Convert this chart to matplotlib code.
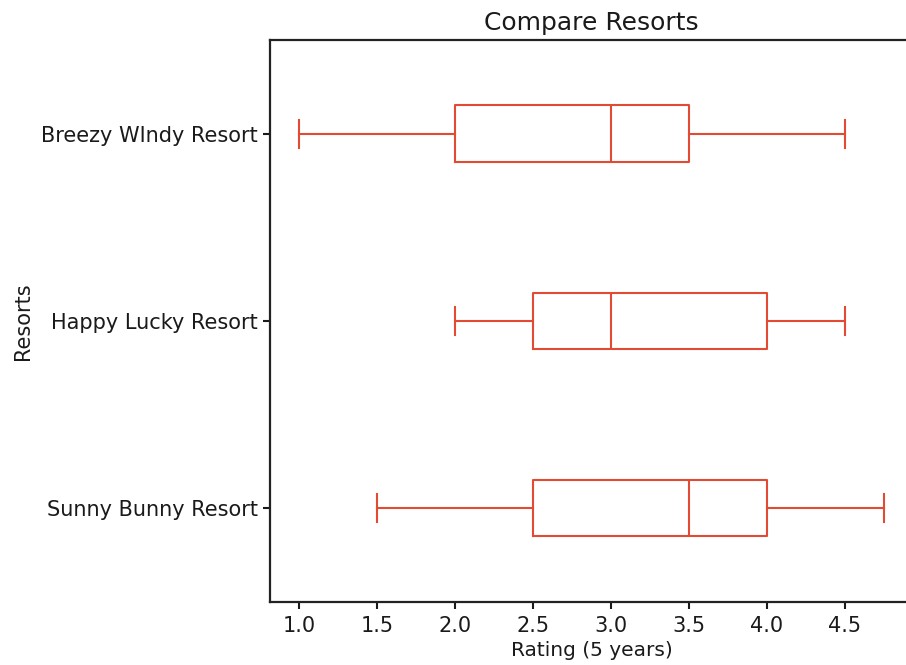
import matplotlib
matplotlib.use('Agg')
import matplotlib.pyplot as plt

# Ratings over 5 years for each resort
resorts = ['Sunny Bunny Resort', 'Happy Lucky Resort', 'Breezy WIndy Resort']
sunny_bunny = [1.5, 2.5, 3.5, 4.0, 4.75]
happy_lucky = [2.0, 2.5, 3.0, 4.0, 4.5]
breezy_windy = [1.0, 2.0, 3.0, 3.5, 4.5]

color = '#E24A33'

fig = plt.figure(figsize=(9.06, 6.65), dpi=100)
ax = fig.add_axes([0.298, 0.095, 0.71, 0.845])

style = dict(color=color, linewidth=1.5)
ax.boxplot([sunny_bunny, happy_lucky, breezy_windy], vert=False, widths=0.3,
           boxprops=style, whiskerprops=style, capprops=style,
           medianprops=style, showfliers=False)

ax.set_yticks([1, 2, 3])
ax.set_yticklabels(resorts)
ax.set_xticks([1.0, 1.5, 2.0, 2.5, 3.0, 3.5, 4.0, 4.5])
ax.set_xticklabels(['1.0', '1.5', '2.0', '2.5', '3.0', '3.5', '4.0', '4.5'])
ax.set_xlim(0.8125, 4.9375)
ax.set_ylim(0.5, 3.5)
ax.tick_params(labelsize=15, width=1.5, length=5, colors='#1a1a1a')
ax.tick_params(axis='x', pad=5)
for s in ax.spines.values():
    s.set_linewidth(1.6)
    s.set_color('#222222')

ax.set_title('Compare Resorts', fontsize=18, color='#1a1a1a', pad=7)
ax.set_xlabel('Rating (5 years)', fontsize=14.5, color='#1a1a1a', labelpad=4)
ax.set_ylabel('Resorts', fontsize=15, color='#1a1a1a', labelpad=6)

fig.savefig('out.png', dpi=100)
